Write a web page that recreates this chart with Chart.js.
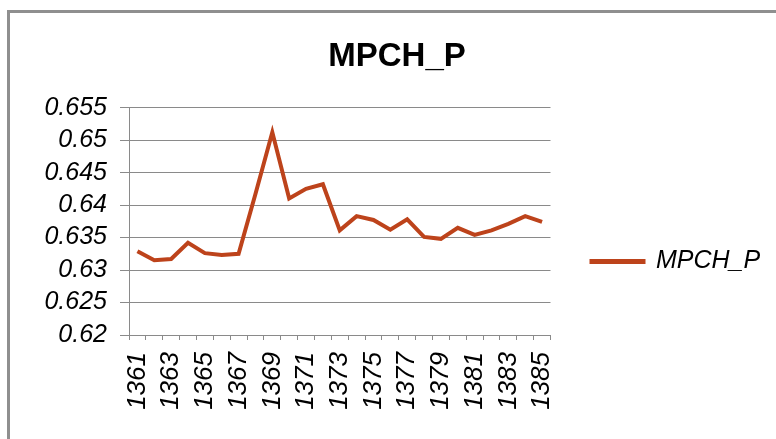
<!DOCTYPE html>
<html>
<head>
<meta charset="utf-8">
<script src="https://cdn.jsdelivr.net/npm/chart.js@4"></script>
<style>
    html,body{margin:0;padding:0;background:#fff;width:776px;height:439px;overflow:hidden;}
    #frame{position:absolute;left:7px;top:10px;width:800px;height:460px;
        border-left:3px solid #8f8f8f;border-top:3px solid #8f8f8f;background:#fff;}
    #wrap{position:absolute;left:0;top:0;width:776px;height:439px;}
</style>
</head>
<body>
<div id="frame"></div>
<div id="wrap"><canvas id="chart"></canvas></div>
<script>
/* MPCH_P line chart */

const YEARS  = ["1361","1362","1363","1364","1365","1366","1367","1368","1369","1370",
                "1371","1372","1373","1374","1375","1376","1377","1378","1379","1380",
                "1381","1382","1383","1384","1385"];
const MPCH_P = [0.6329,0.6315,0.6317,0.6342,0.6326,0.6323,0.6325,0.6417,0.6512,0.6410,
                0.6425,0.6432,0.6361,0.6383,0.6377,0.6362,0.6378,0.6351,0.6348,0.6365,
                0.6354,0.6361,0.6371,0.6383,0.6374];
const Y_MIN = 0.62, Y_MAX = 0.655, Y_STEP = 0.005;

const LINE  = "#bd431b";
const GRID  = "#8a8a8a";
const FONT  = "'Liberation Sans', Arial, sans-serif";

Chart.defaults.font.family = FONT;
Chart.defaults.color = "#000";

// nudge legend and title to where the original sits
const nudge = {
    id: "nudge",
    afterLayout(chart){
        const lg = chart.legend;
        lg.left += 31; lg.right += 31;
        lg.top += 42;  lg.bottom += 42;
        const tb = chart.titleBlock;
        tb.left += 30; tb.right += 30;
    }
};

new Chart(document.getElementById("chart"), {
    type: "line",
    data: {
        labels: YEARS,
        datasets: [{
            label: "MPCH_P",
            data: MPCH_P,
            borderColor: LINE,
            backgroundColor: LINE,
            borderWidth: 4,
            pointRadius: 0,
            tension: 0,
            fill: false
        }]
    },
    plugins: [nudge],
    options: {
        responsive: true,
        maintainAspectRatio: false,
        animation: false,
        layout: {padding: {left: 0, right: 42, top: 0, bottom: 0}},
        plugins: {
            title: {
                display: true,
                text: "MPCH_P",
                color: "#000",
                font: {size: 33, weight: "bold", family: FONT},
                padding: {top: 37, bottom: 31}
            },
            legend: {
                position: "right",
                labels: {
                    boxWidth: 52,
                    boxHeight: 1,
                    color: "#000",
                    padding: 10,
                    font: {size: 25, style: "italic", family: FONT}
                }
            },
            tooltip: {enabled: false}
        },
        scales: {
            x: {
                offset: true,
                grid: {display: true, drawOnChartArea: false, drawTicks: true,
                       tickLength: 5, offset: true, color: GRID},
                border: {color: GRID},
                ticks: {
                    autoSkip: false,
                    minRotation: 90, maxRotation: 90,
                    padding: 12,
                    font: {size: 26, style: "italic", family: FONT},
                    callback: (v, i) => i % 2 === 0 ? YEARS[i] : ""
                },
                afterFit: s => { s.height = 104; }
            },
            y: {
                min: Y_MIN, max: Y_MAX,
                grid: {color: GRID, tickLength: 9},
                border: {color: GRID},
                ticks: {
                    autoSkip: false,
                    stepSize: Y_STEP,
                    padding: 13,
                    font: {size: 25, style: "italic", family: FONT, lineHeight: 1},
                    callback: v => String(+v.toFixed(3))
                },
                afterFit: s => { s.width = 129; }
            }
        }
    }
});
</script>
</body>
</html>
